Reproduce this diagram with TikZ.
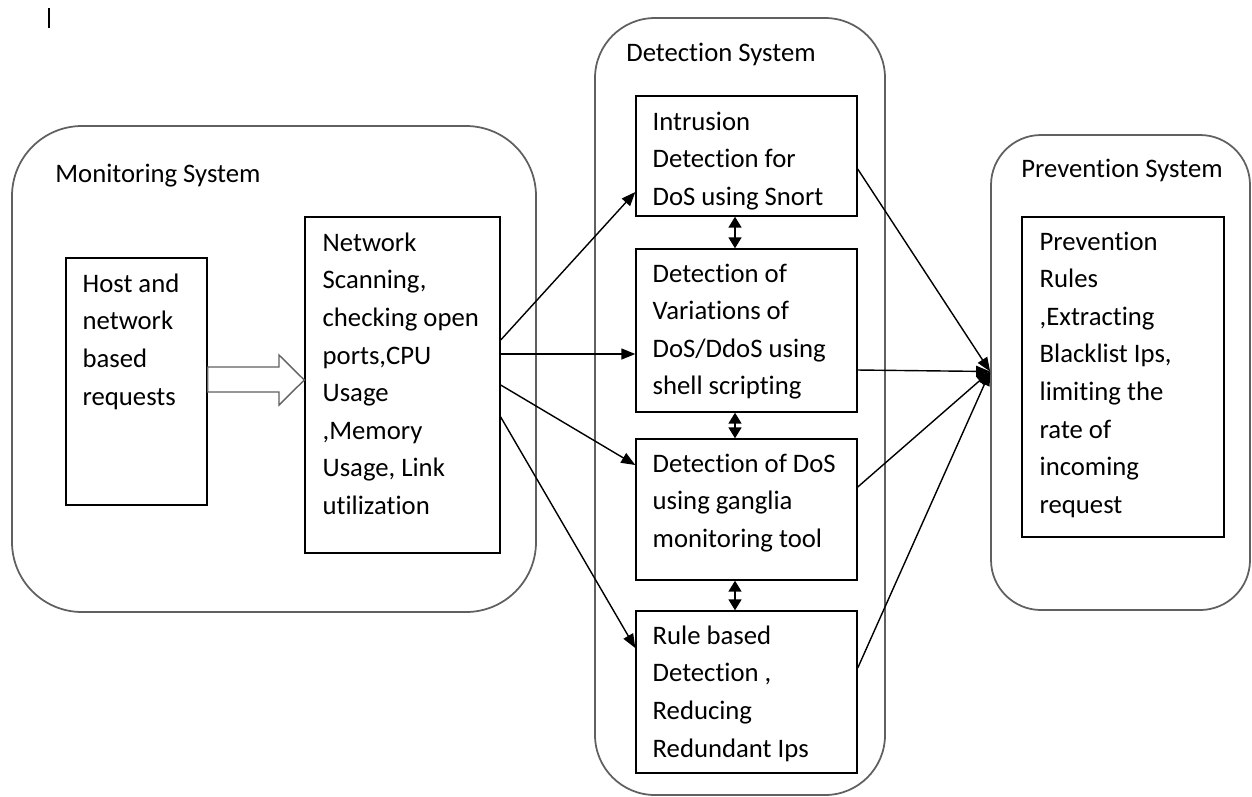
\documentclass[tikz,border=0pt]{standalone}
\usepackage{fontspec}
\setmainfont[Ligatures={NoCommon,NoRequired,NoContextual}]{Carlito}
\usetikzlibrary{arrows.meta}
\begin{document}
\begin{tikzpicture}[font=\fontsize{15.2}{21.4}\selectfont,
        frame/.style={draw=gray!75!black, line width=1pt, rectangle, inner sep=0pt},
        syslabel/.style={anchor=west, inner sep=0pt},
        blockbox/.style={draw, line width=0.8pt, rectangle, inner sep=0pt},
        blocktext/.style={anchor=north west, align=left, inner sep=0pt},
        flow/.style={-{Triangle[length=0.28cm, width=0.22cm]}, line width=0.8pt},
        link/.style={{Triangle[length=0.22cm, width=0.26cm]}-{Triangle[length=0.22cm, width=0.26cm]}, line width=1pt}]
        \useasboundingbox (0,0) rectangle (25.04,-15.92);
        % ---- cursor mark ----
        \draw[line width=0.8pt] (0.98,-0.16) -- (0.98,-0.56);
        % ---- outer frames ----
        \node[frame, rounded corners=1.4cm, minimum width=10.48cm, minimum height=9.72cm] (monitor) at (5.48,-7.38) {};
        \node[frame, rounded corners=1.2cm, minimum width=5.8cm, minimum height=15.54cm] (detect) at (14.8,-8.13) {};
        \node[frame, rounded corners=1.0cm, minimum width=5.18cm, minimum height=9.5cm] (prevent) at (22.41,-7.45) {};
        \node[syslabel] (monlabel) at (1.1,-3.52) {Monitoring System};
        \node[syslabel] (detlabel) at (12.52,-1.08) {Detection System};
        \node[syslabel] (prevlabel) at (20.42,-3.4) {Prevention System};
        % ---- monitoring blocks ----
        \node[blockbox, minimum width=2.82cm, minimum height=4.94cm] (host) at (2.73,-7.63) {};
        \node[blockbox, minimum width=3.9cm, minimum height=6.72cm] (scan) at (8.05,-7.70) {};
        \node[blocktext] (hosttext) at ([shift={(0.34,-0.32)}]host.north west) {Host and\\network\\based\\requests};
        \node[blocktext] (scantext) at ([shift={(0.36,-0.32)}]scan.north west) {Network\\Scanning,\\checking open\\ports,CPU\\Usage\\,Memory\\Usage, Link\\utilization};
        % ---- hollow arrow ----
        \coordinate (hollowtip) at (scan.west |- 0,-7.6);
        \draw[gray!75!black, line width=0.8pt, line join=miter, fill=white]
          (host.east |- 0,-7.34) -- (5.58,-7.34) -- (5.58,-7.1) -- (hollowtip)
          -- (5.58,-8.1) -- (5.58,-7.84) -- (host.east |- 0,-7.84) -- cycle;
        % ---- detection blocks ----
        \node[blockbox, minimum width=4.42cm, minimum height=2.4cm] (det1) at (14.93,-3.12) {};
        \node[blockbox, minimum width=4.42cm, minimum height=3.26cm] (det2) at (14.93,-6.61) {};
        \node[blockbox, minimum width=4.42cm, minimum height=2.82cm] (det3) at (14.93,-10.19) {};
        \node[blockbox, minimum width=4.42cm, minimum height=3.24cm] (det4) at (14.93,-13.84) {};
        \node[blocktext] (det1text) at ([shift={(0.34,-0.32)}]det1.north west) {Intrusion\\Detection for\\DoS using Snort};
        \node[blocktext] (det2text) at ([shift={(0.34,-0.3)}]det2.north west) {Detection of\\Variations of\\DoS/DdoS using\\shell scripting};
        \node[blocktext] (det3text) at ([shift={(0.34,-0.3)}]det3.north west) {Detection of DoS\\using ganglia\\monitoring tool};
        \node[blocktext] (det4text) at ([shift={(0.34,-0.3)}]det4.north west) {Rule based\\Detection ,\\Reducing\\Redundant Ips};
        % ---- prevention block ----
        \node[blockbox, minimum width=4.04cm, minimum height=6.4cm] (rules) at (22.46,-7.54) {};
        \node[blocktext] (rulestext) at ([shift={(0.36,-0.3)}]rules.north west) {Prevention\\Rules\\,Extracting\\Blacklist Ips,\\limiting the\\rate of\\incoming\\request};
        % ---- scan -> detection ----
        \draw[flow] ([yshift=0.9cm]scan.east) -- ([yshift=-0.72cm]det1.west);
        \draw[flow] ([yshift=0.62cm]scan.east) -- ([yshift=-0.47cm]det2.west);
        \draw[flow] (scan.east) -- ([yshift=0.89cm]det3.west);
        \draw[flow] ([yshift=-0.64cm]scan.east) -- ([yshift=0.88cm]det4.west);
        % ---- between detection blocks ----
        \draw[link] ([xshift=-0.23cm]det1.south) -- ([xshift=-0.23cm]det2.north);
        \draw[link] ([xshift=-0.23cm]det2.south) -- ([xshift=-0.23cm]det3.north);
        \draw[link] ([xshift=-0.23cm]det3.south) -- ([xshift=-0.23cm]det4.north);
        % ---- detection -> prevention ----
        \coordinate (prevhit) at ([yshift=0.02cm]prevent.west);
        \foreach \b/\s in {det1/-0.26, det2/-0.79, det3/0.45, det4/0.48}
          \draw[flow] ([yshift=\s cm]\b.east) -- (prevhit);
    \end{tikzpicture}
\end{document}
